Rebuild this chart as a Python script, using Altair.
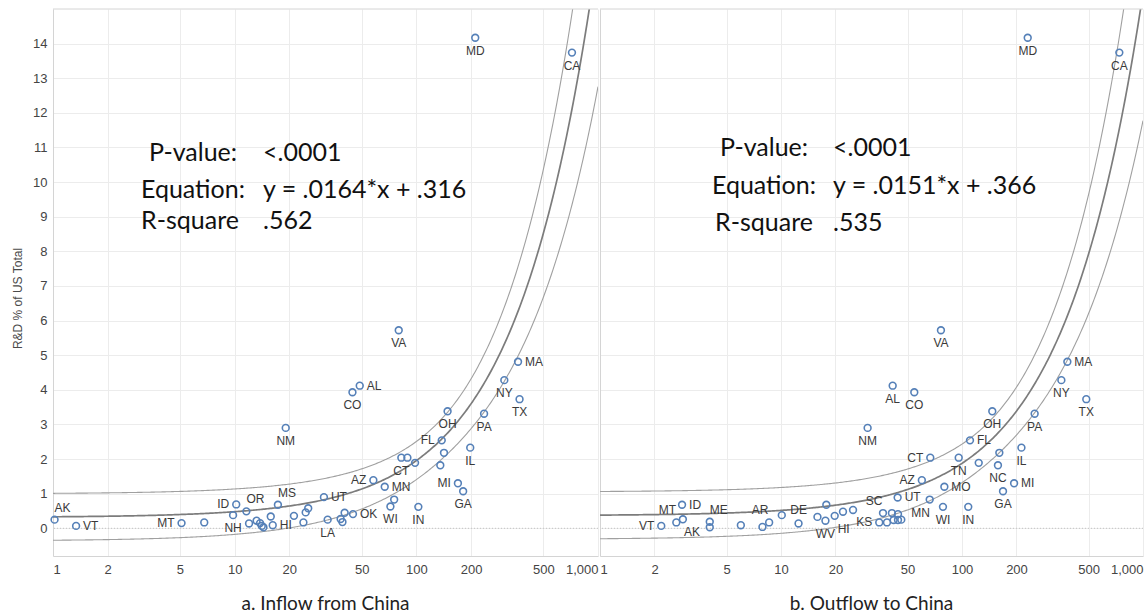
import numpy as np
import pandas as pd
import altair as alt

# ---- Panel a: inflow from China (x) vs R&D share (y) ----
a_state = ["AK", "VT", "MT", "", "NH", "ID", "OR", "", "", "", "", "", "", "HI", "MS",
           "NM", "", "", "", "", "UT", "LA", "", "", "", "OK", "CO", "AL", "AZ", "MN",
           "WI", "", "VA", "CT", "", "", "IN", "", "FL", "", "OH", "MI", "GA", "IL", "MD",
           "PA", "NY", "MA", "TX", "CA"]
a_x = [1.02, 1.34, 5.1, 6.8, 9.8, 10.2, 11.6, 12.0, 13.2, 13.8, 14.1, 14.4, 15.8, 16.2, 17.3,
       19.1, 21.2, 23.9, 24.6, 25.4, 31.0, 32.5, 38.3, 39.2, 40.3, 44.8, 44.5, 48.8, 58, 67,
       72, 75.5, 80, 82.7, 89.3, 98.4, 102.6, 135.5, 138, 142, 148.6, 169.4, 181, 198, 211,
       236, 305, 363, 370, 719]
a_y = [0.25, 0.07, 0.15, 0.17, 0.38, 0.69, 0.49, 0.14, 0.22, 0.15, 0.07, 0.03, 0.34, 0.09, 0.68,
       2.90, 0.36, 0.17, 0.46, 0.58, 0.90, 0.25, 0.27, 0.18, 0.45, 0.41, 3.93, 4.12, 1.39, 1.20,
       0.63, 0.83, 5.72, 2.04, 2.04, 1.89, 0.62, 1.82, 2.54, 2.18, 3.38, 1.30, 1.07, 2.33, 14.17,
       3.31, 4.28, 4.81, 3.73, 13.74]
a_slope, a_icpt = 0.0164, 0.316
a_pvalue, a_rsq = "<.0001", ".562"

# ---- Panel b: outflow to China (x) vs R&D share (y) ----
b_state = ["VT", "MT", "ID", "AK", "ME", "", "", "", "AR", "", "DE", "", "WV", "", "HI",
           "", "", "NM", "KS", "SC", "", "", "AL", "", "UT", "", "", "", "CO", "AZ",
           "MN", "CT", "VA", "WI", "MO", "TN", "IN", "FL", "", "OH", "NC", "", "GA", "MI", "IL",
           "MD", "PA", "NY", "MA", "TX", "CA"]
b_x = [2.18, 2.64, 2.84, 2.87, 4.04, 4.04, 6.0, 7.9, 8.6, 10.1, 12.5, 15.9, 17.6, 17.8, 19.8,
       22.0, 25.0, 30.1, 34.9, 36.6, 38.5, 41.0, 41.4, 41.9, 44.1, 44.3, 44.3, 46.2, 54.5, 60,
       66.3, 66.8, 76.5, 78.5, 79.9, 95.9, 108.3, 110.7, 123.7, 147, 158, 160.8, 168.5, 194, 213,
       230.7, 252, 354, 382, 486, 740]
b_y = [0.07, 0.17, 0.68, 0.26, 0.19, 0.03, 0.09, 0.04, 0.17, 0.38, 0.14, 0.33, 0.22, 0.68, 0.36,
       0.48, 0.53, 2.90, 0.17, 0.44, 0.17, 0.44, 4.12, 0.24, 0.89, 0.41, 0.24, 0.25, 3.93, 1.39,
       0.83, 2.04, 5.72, 0.62, 1.20, 2.04, 0.62, 2.54, 1.89, 3.38, 1.82, 2.18, 1.07, 1.30, 2.33,
       14.17, 3.31, 4.28, 4.81, 3.73, 13.74]
b_slope, b_icpt = 0.0151, 0.366
b_pvalue, b_rsq = "<.0001", ".535"

x_ticks = [1, 2, 5, 10, 20, 50, 100, 200, 500, 1000]
y_ticks = list(range(15))

# label placement around each marker
a_label_pos = {"AK": "ta", "VT": "r", "MT": "l", "NH": "b", "ID": "l", "OR": "tr", "HI": "r",
               "MS": "tr", "NM": "b", "UT": "r", "LA": "b", "OK": "r", "CO": "b", "AL": "r",
               "AZ": "l", "MN": "r", "WI": "b", "VA": "b", "CT": "b", "IN": "b", "FL": "l",
               "OH": "b", "MI": "l", "GA": "b", "IL": "b", "MD": "b", "PA": "b", "NY": "b",
               "MA": "r", "TX": "b", "CA": "b"}
b_label_pos = {"VT": "l", "MT": "tl", "ID": "r", "AK": "br", "ME": "tr", "AR": "tl", "DE": "t",
               "WV": "b", "HI": "br", "NM": "b", "KS": "l", "SC": "tl", "AL": "b", "UT": "r",
               "CO": "b", "AZ": "l", "MN": "bl", "CT": "l", "VA": "b", "WI": "b", "MO": "r",
               "TN": "b", "IN": "b", "FL": "r", "OH": "b", "NC": "b", "GA": "b", "MI": "r",
               "IL": "b", "MD": "b", "PA": "b", "NY": "b", "MA": "r", "TX": "b", "CA": "b"}

LABEL_MODES = {
    "b": dict(dx=0, dy=13, align="center"),
    "t": dict(dx=0, dy=-13, align="center"),
    "r": dict(dx=7, dy=0, align="left"),
    "l": dict(dx=-7, dy=0, align="right"),
    "tr": dict(dx=9, dy=-12, align="center"),
    "tl": dict(dx=-9, dy=-12, align="center"),
    "br": dict(dx=9, dy=13, align="center"),
    "bl": dict(dx=-9, dy=13, align="center"),
    "ta": dict(dx=0, dy=-12, align="left"),
}

H = 547
Y_DOMAIN = [-0.8, 15]
POINT_COLOR = "#5580b8"
FONT = "Liberation Sans"
NOTE_FONT = "Lato"


def fit_frame(xs, ys, slope, icpt):
    """Trend line with 95% confidence band for the mean."""
    xs = np.asarray(xs, dtype=float)
    ys = np.asarray(ys, dtype=float)
    n = len(xs)
    xm = xs.mean()
    sxx = ((xs - xm) ** 2).sum()
    resid = ys - (slope * xs + icpt)
    s = np.sqrt((resid ** 2).sum() / (n - 2))
    grid = np.logspace(0, 3, 400)
    fit = slope * grid + icpt
    half = 2.01 * s * np.sqrt(1.0 / n + (grid - xm) ** 2 / sxx)
    return pd.DataFrame({"x": grid, "fit": fit, "lo": fit - half, "hi": fit + half})


def fmt_coef(v, digits):
    return f"{v:.{digits}f}".lstrip("0")


def make_panel(states, xs, ys, pos_map, slope, icpt, pvalue, rsq, width, notes_x, notes_y,
               value_x, caption, show_y):
    x_scale = alt.Scale(type="log", domain=[1, 1000], nice=False)
    y_scale = alt.Scale(domain=Y_DOMAIN, nice=False, zero=False)
    x_axis = alt.Axis(values=x_ticks, format=",", labelFlush=True, labelOverlap=False,
                      ticks=False, grid=True, gridColor="#ececec", domainColor="#d4d4d4",
                      labelFont=FONT, labelFontSize=13, labelColor="#444444",
                      labelPadding=7, title=None)
    if show_y:
        y_axis = alt.Axis(values=y_ticks, tickCount=15, ticks=False, grid=True,
                          gridColor="#ececec", domainColor="#d4d4d4", labelFont=FONT,
                          labelFontSize=13, labelColor="#444444", labelPadding=6,
                          labelOverlap=False, labelFlush=False, format="d",
                          title="R&D % of US Total", titleFont=FONT, titleFontSize=12,
                          titleFontWeight="normal", titleColor="#4a4a4a", titlePadding=8,
                          titleY=289)
    else:
        y_axis = alt.Axis(values=y_ticks, tickCount=15, ticks=False, grid=True,
                          gridColor="#ececec", domainColor="#d4d4d4", labels=False,
                          title=None)

    def X(field):
        return alt.X(field, scale=x_scale, axis=x_axis)

    def Y(field):
        return alt.Y(field, scale=y_scale, axis=y_axis)

    pts = pd.DataFrame({"state": states, "x": xs, "y": ys})
    pts["pos"] = [pos_map.get(s, "") for s in states]
    fit = fit_frame(xs, ys, slope, icpt)

    base_fit = alt.Chart(fit)
    band_hi = base_fit.mark_line(color="#a0a0a0", strokeWidth=1.1, clip=True).encode(
        x=X("x:Q"), y=Y("hi:Q"))
    band_lo = base_fit.mark_line(color="#a0a0a0", strokeWidth=1.1, clip=True).encode(
        x=X("x:Q"), y=Y("lo:Q"))
    trend = base_fit.mark_line(color="#7c7c7c", strokeWidth=1.7, clip=True).encode(
        x=X("x:Q"), y=Y("fit:Q"))

    zero = alt.Chart(pd.DataFrame({"y": [0]})).mark_rule(
        color="#c4c4c4", strokeDash=[1, 2], strokeWidth=1).encode(y=Y("y:Q"))
    top = alt.Chart(pd.DataFrame({"y": [0]})).mark_rule(
        color="#d4d4d4", strokeWidth=1).encode(
        x=alt.value(0), x2=alt.value(width), y=alt.value(0))

    points = alt.Chart(pts).mark_point(
        shape="circle", filled=False, size=46, strokeWidth=1.6, color=POINT_COLOR, opacity=1
    ).encode(x=X("x:Q"), y=Y("y:Q"))

    label_layers = []
    for mode, opts in LABEL_MODES.items():
        if mode not in pts["pos"].values:
            continue
        label_layers.append(
            alt.Chart(pts).transform_filter(alt.datum.pos == mode).mark_text(
                font=FONT, fontSize=12, color="#3a3a3a", baseline="middle", **opts
            ).encode(x=X("x:Q"), y=Y("y:Q"), text="state:N")
        )

    eq_text = f"y = {fmt_coef(slope, 4)}*x + {fmt_coef(icpt, 3)}"
    note_keys = ["P-value:", "Equation:", "R-square"]
    note_vals = [pvalue, eq_text, rsq]
    note_layers = []
    for key, val, kx, ky in zip(note_keys, note_vals, notes_x, notes_y):
        row = pd.DataFrame({"k": [key], "v": [val]})
        note_layers.append(
            alt.Chart(row).mark_text(font=NOTE_FONT, fontSize=25, color="#111111",
                                     align="left", baseline="alphabetic").encode(
                x=alt.value(kx), y=alt.value(ky), text="k:N"))
        note_layers.append(
            alt.Chart(row).mark_text(font=NOTE_FONT, fontSize=25, color="#111111",
                                     align="left", baseline="alphabetic").encode(
                x=alt.value(value_x), y=alt.value(ky), text="v:N"))

    cap = alt.Chart(pd.DataFrame({"c": [caption]})).mark_text(
        font=NOTE_FONT, fontSize=19, color="#222222", align="center", baseline="middle"
    ).encode(x=alt.value(width / 2), y=alt.value(H + 48), text="c:N")

    return alt.layer(band_hi, band_lo, trend, zero, top, points, *label_layers,
                     *note_layers, cap).properties(width=width, height=H)


panel_a = make_panel(a_state, a_x, a_y, a_label_pos, a_slope, a_icpt, a_pvalue, a_rsq,
                     545, [96, 88, 88], [152, 188.7, 219.7], 210,
                     "a. Inflow from China", True)
panel_b = make_panel(b_state, b_x, b_y, b_label_pos, b_slope, b_icpt, b_pvalue, b_rsq,
                     543, [120, 112, 115], [147, 185.3, 222], 233,
                     "b. Outflow to China", False)

chart = alt.hconcat(panel_a, panel_b, spacing=0).properties(
    padding={"left": 11, "top": 8, "right": 0, "bottom": 0},
    background="white",
).configure_view(stroke=None).configure_axisY(labelOverlap=False)

chart.save("out.html", embed_options={"renderer": "svg", "actions": False})
